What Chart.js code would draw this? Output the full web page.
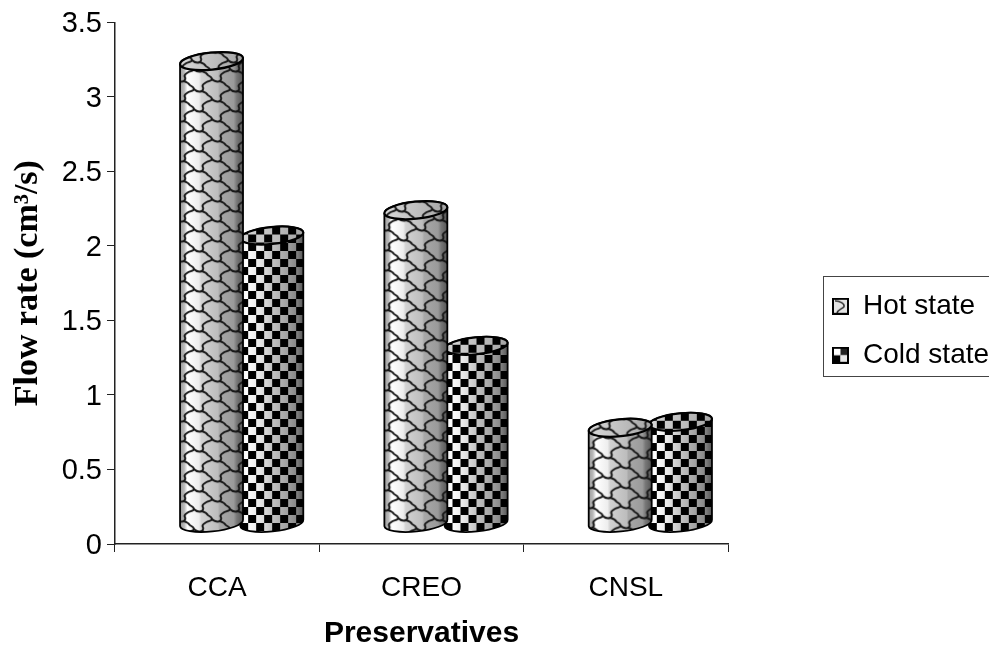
<!DOCTYPE html>
<html><head><meta charset="utf-8">
<style>html,body{margin:0;padding:0;background:#fff;overflow:hidden}#w{width:989px;height:650px}</style>
<script src="https://cdn.jsdelivr.net/npm/chart.js@4"></script></head>
<body><div id="w"><canvas id="c"></canvas></div>
<script>
const categories = ['CCA','CREO','CNSL'];
const hotState = [3.24,2.24,0.78];
const coldState = [2.07,1.33,0.82];
const tickLabels = ['0','0.5','1','1.5','2','2.5','3','3.5'];
const seriesNames = ['Hot state','Cold state'];

const DX=24.5, FLOOR=21, RY=8.5, TILT=-0.1;

function scaleTile(){
  const t=document.createElement('canvas');t.width=36;t.height=20;
  const g=t.getContext('2d');g.strokeStyle='#161616';g.lineWidth=1.9;g.lineCap='round';g.lineJoin='round';
  const col=(x,off)=>{for(let k=-1;k<=1;k++){const y=off+k*20;
    g.beginPath();g.moveTo(x,y);
    g.bezierCurveTo(x+3,y+1,x+5,y+2,x+6,y+4);
    g.bezierCurveTo(x+8,y+5,x+10,y+6,x+10,y+8);
    g.bezierCurveTo(x+10,y+10,x+5,y+10,x+3,y+12);
    g.bezierCurveTo(x+1,y+13,x,y+15,x+1,y+16);
    g.bezierCurveTo(x+2,y+18,x+1,y+19,x,y+20);
    g.stroke();
    g.beginPath();g.moveTo(x+10,y+8);g.bezierCurveTo(x+12,y+10,x+15,y+11,x+18,y+10);g.stroke();
  }};
  [-36,0,36].forEach(o=>{col(o+2,0);col(o+20,10);});
  return t;
}
function checkTile(){
  const t=document.createElement('canvas');t.width=16;t.height=16;
  const g=t.getContext('2d');g.fillStyle='#000';g.fillRect(0,0,8,8);g.fillRect(8,8,8,8);
  return t;
}
const sTile=scaleTile(), cTile=checkTile();

function cylPath(ctx,x0,x1,top,bot){
  const xc=(x0+x1)/2, rx=(x1-x0)/2;
  ctx.beginPath();
  ctx.ellipse(xc,top,rx,RY,TILT,Math.PI,0,false);
  ctx.ellipse(xc,bot,rx,RY,TILT,0,Math.PI,false);
  ctx.closePath();
}
function drawCyl(ctx,x0,x1,top,bot,kind){
  const xc=(x0+x1)/2, rx=(x1-x0)/2;
  ctx.save();
  cylPath(ctx,x0,x1,top,bot);
  ctx.save();ctx.clip();
  const g=ctx.createLinearGradient(x0,0,x1,0);
  if(kind===0){
    [[0,'#999'],[.07,'#bbb'],[.12,'#fff'],[.3,'#eee'],[.34,'#d2d2d2'],[.6,'#bdbdbd'],[.63,'#a8a8a8'],[.85,'#9a9a9a'],[.9,'#777'],[1,'#555']].forEach(s=>g.addColorStop(s[0],s[1]));
  }else{
    [[0,'#e8e8e8'],[.1,'#fff'],[.3,'#e8e8e8'],[.5,'#c4c4c4'],[.75,'#a0a0a0'],[.88,'#888'],[1,'#555']].forEach(s=>g.addColorStop(s[0],s[1]));
  }
  ctx.fillStyle=g;ctx.fillRect(x0-2,top-20,x1-x0+4,bot-top+40);
  const p=ctx.createPattern(kind===0?sTile:cTile,'repeat');
  p.setTransform(new DOMMatrix().translate(x0+(kind===0?2:0),kind===0?top:bot%16));
  ctx.fillStyle=p;ctx.fillRect(x0-2,top-20,x1-x0+4,bot-top+40);
  ctx.restore();
  ctx.strokeStyle='#000';ctx.lineWidth=1.8;
  cylPath(ctx,x0,x1,top,bot);ctx.stroke();
  // top cap
  ctx.beginPath();ctx.ellipse(xc,top,rx,RY,TILT,0,Math.PI*2);ctx.save();ctx.clip();
  const cg=ctx.createLinearGradient(x0,0,x1,0);
  cg.addColorStop(0,'#d8d8d8');cg.addColorStop(.5,'#c0c0c0');cg.addColorStop(1,'#a4a4a4');
  ctx.fillStyle=cg;ctx.fillRect(x0-2,top-12,x1-x0+4,24);
  const q=ctx.createPattern(kind===0?sTile:cTile,'repeat');
  q.setTransform(new DOMMatrix().translate(x0,top-9));
  ctx.fillStyle=q;ctx.fillRect(x0-2,top-12,x1-x0+4,24);
  ctx.restore();
  ctx.lineWidth=2.2;ctx.beginPath();ctx.ellipse(xc,top,rx,RY,TILT,0,Math.PI*2);ctx.stroke();
  ctx.restore();
}
function legendIcon(kind){
  const t=document.createElement('canvas');t.width=17;t.height=17;
  const g=t.getContext('2d');
  g.fillStyle='#fff';g.fillRect(0,0,17,17);
  if(kind===0){
    g.fillStyle='#e4e4e4';g.fillRect(2,2,13,13);
    g.strokeStyle='#333';g.lineWidth=1.5;
    g.beginPath();g.moveTo(3,3);g.bezierCurveTo(8,3,13,6,12,9);g.bezierCurveTo(10,11,6,12,5,15);g.stroke();
  }else{
    g.fillStyle='#222';g.fillRect(8.5,1,7.5,7.5);
    g.fillStyle='#000';g.fillRect(1,8.5,7.5,7.5);
    g.fillStyle='#e8e8e8';g.fillRect(8.5,8.5,7.5,7.5);
  }
  g.strokeStyle='#000';g.lineWidth=2;g.strokeRect(1,1,15,15);
  return t;
}
const icons=[legendIcon(0),legendIcon(1)];

const cylinders={id:'cylinders',
  beforeDatasetDraw(chart,args){
    const ctx=chart.ctx, y=chart.scales.y, bot=y.getPixelForValue(0)-FLOOR;
    chart.getDatasetMeta(args.index).data.forEach(el=>{
      const w=el.width+3, xc=el.x+DX;
      drawCyl(ctx,xc-w/2,xc+w/2,el.y,bot,args.index);
    });
    return false;
  }
};
const legendBox={id:'legendBox',
  afterLayout(chart){
    const l=chart.legend;
    l.left=811;l.top=271.3;l.right=989;l.bottom=440;l.width=178;l.height=168.7;
  },
  afterDraw(chart){
    const c=chart.ctx;c.save();c.strokeStyle='#444';c.lineWidth=1;
    c.strokeRect(823.5,276.5,170,100);c.restore();
  }
};
new Chart(document.getElementById('c'),{
  type:'bar',
  data:{labels:categories,datasets:[
    {label:seriesNames[0],data:hotState,backgroundColor:'#c4c4c4',borderColor:'#000'},
    {label:seriesNames[1],data:coldState,backgroundColor:'#333',borderColor:'#000'}
  ]},
  plugins:[cylinders,legendBox],
  options:{
    responsive:true,maintainAspectRatio:false,animation:false,
    layout:{padding:{left:0,right:261,top:21,bottom:0}},
    datasets:{bar:{categoryPercentage:.59,barPercentage:1}},
    plugins:{
      tooltip:{enabled:false},title:{display:false},
      legend:{position:'chartArea',align:'start',
        labels:{usePointStyle:true,boxWidth:17,boxHeight:17,padding:21,color:'#000',
          font:{family:'"Liberation Sans"',size:28},
          generateLabels(chart){
            return Chart.defaults.plugins.legend.labels.generateLabels(chart).map((it,i)=>{it.pointStyle=icons[i];return it;});
          }}}
    },
    scales:{
      x:{
        afterFit(s){s.height=106;},
        grid:{display:true,drawOnChartArea:false,drawTicks:true,tickLength:8,color:'#222',tickColor:'#222',offset:true},
        border:{color:'#222',width:1.5},
        ticks:{color:'#000',padding:19,font:{family:'"Liberation Sans"',size:28},maxRotation:0},
        title:{display:true,text:'Preservatives',color:'#000',padding:{top:16,bottom:-2},font:{family:'"Liberation Sans"',size:30,weight:'bold'}}
      },
      y:{
        min:0,max:3.5,
        afterFit(s){s.width=115;},
        grid:{display:true,drawOnChartArea:false,drawTicks:true,tickLength:8,color:'#222',tickColor:'#222'},
        border:{color:'#222',width:1.5},
        ticks:{stepSize:.5,color:'#000',padding:5,labelOffset:2,font:{family:'"Liberation Sans"',size:29},
          callback(v,i){return tickLabels[i];}},
        title:{display:true,text:'Flow rate (cm³/s)',color:'#000',padding:{top:8,bottom:0},font:{family:'"Liberation Serif"',size:34,weight:'bold'}}
      }
    }
  }
});
</script></body></html>
